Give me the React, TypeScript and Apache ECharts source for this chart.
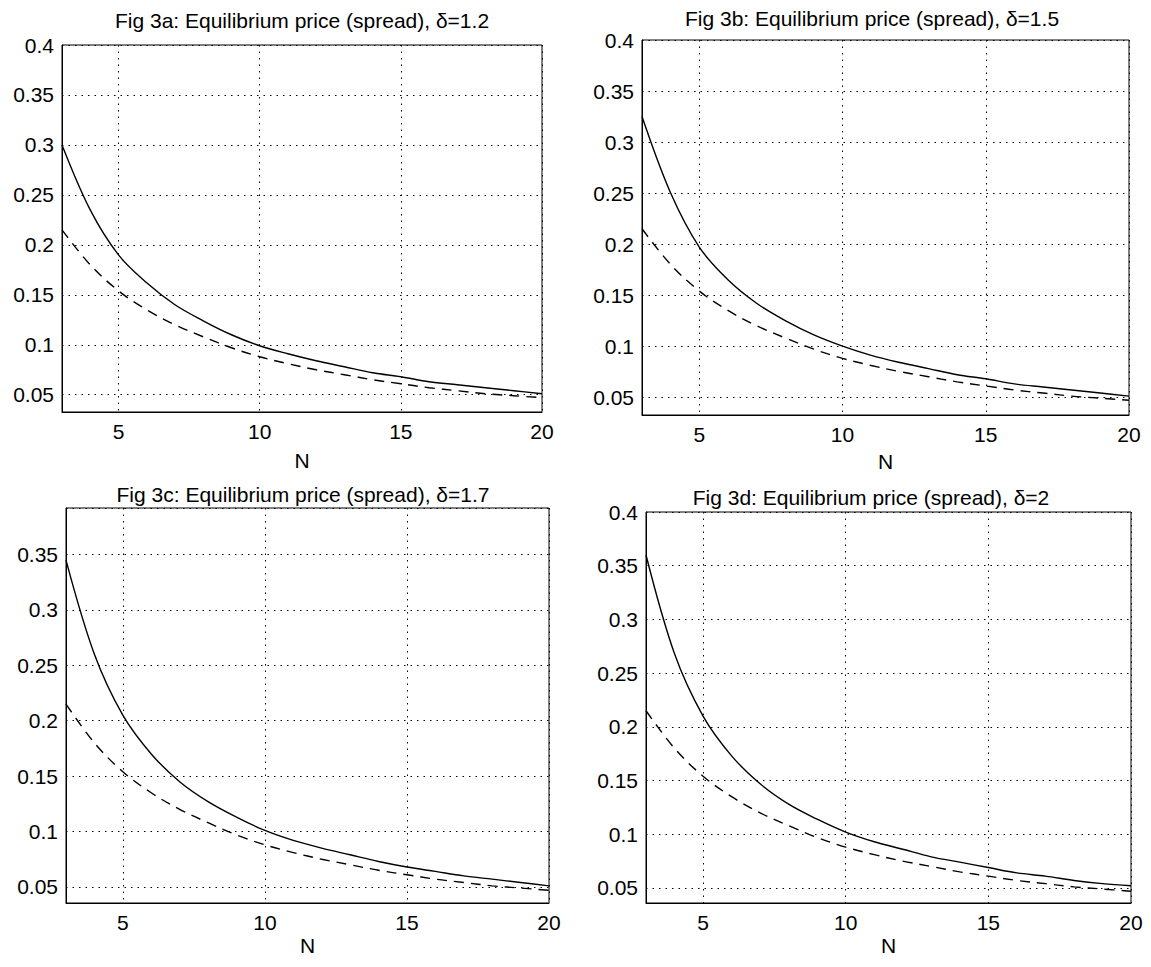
import React, { useEffect, useRef } from "react";
import * as echarts from "echarts";

// Number of firms N (x-axis)
const nValues = [3, 4, 5, 6, 7, 8, 9, 10, 11, 12, 13, 14, 15, 16, 17, 18, 19, 20];

// Solid curves (one per panel)
const solidA = [0.3, 0.235, 0.19, 0.162, 0.14, 0.124, 0.11, 0.099, 0.091, 0.084, 0.078, 0.072, 0.068, 0.063, 0.06, 0.057, 0.054, 0.051];
const solidB = [0.325, 0.25, 0.197, 0.165, 0.142, 0.125, 0.111, 0.1, 0.091, 0.084, 0.078, 0.072, 0.068, 0.063, 0.06, 0.057, 0.054, 0.051];
const solidC = [0.345, 0.26, 0.205, 0.17, 0.145, 0.127, 0.113, 0.101, 0.092, 0.085, 0.079, 0.073, 0.068, 0.064, 0.06, 0.057, 0.054, 0.051];
const solidD = [0.36, 0.268, 0.21, 0.173, 0.147, 0.128, 0.114, 0.102, 0.093, 0.086, 0.079, 0.074, 0.069, 0.064, 0.061, 0.057, 0.054, 0.052];

// Dashed curves (one per panel)
const dashedA = [0.215, 0.18, 0.154, 0.135, 0.12, 0.108, 0.097, 0.088, 0.081, 0.075, 0.07, 0.065, 0.061, 0.057, 0.054, 0.051, 0.049, 0.047];
const dashedB = [0.215, 0.18, 0.154, 0.135, 0.12, 0.108, 0.097, 0.088, 0.081, 0.075, 0.07, 0.065, 0.061, 0.057, 0.054, 0.051, 0.049, 0.047];
const dashedC = [0.215, 0.18, 0.154, 0.135, 0.12, 0.108, 0.097, 0.088, 0.081, 0.075, 0.07, 0.065, 0.061, 0.057, 0.054, 0.051, 0.049, 0.047];
const dashedD = [0.215, 0.18, 0.154, 0.135, 0.12, 0.108, 0.097, 0.088, 0.081, 0.075, 0.07, 0.065, 0.061, 0.057, 0.054, 0.051, 0.049, 0.047];

const titles = [
  "Fig 3a: Equilibrium price (spread), \u03b4=1.2",
  "Fig 3b: Equilibrium price (spread), \u03b4=1.5",
  "Fig 3c: Equilibrium price (spread), \u03b4=1.7",
  "Fig 3d: Equilibrium price (spread), \u03b4=2",
];

const yMins = [0.0327, 0.0325, 0.0355, 0.036];
const yMaxs = [0.4, 0.4, 0.392, 0.4];

const FONT = "'Liberation Sans', Arial, Helvetica, sans-serif";
const FS = 21;

export default function App() {
  const ref = useRef<HTMLDivElement>(null);

  useEffect(() => {
    document.body.style.margin = "0";
    if (!ref.current) return;
    const chart = echarts.init(ref.current, null, { renderer: "svg" });

    const grids = [
      { left: 62, top: 45, width: 480, height: 367 },
      { left: 642, top: 40, width: 487, height: 375 },
      { left: 66, top: 508, width: 483, height: 395 },
      { left: 646, top: 512, width: 485, height: 391 },
    ];
    const nameGaps = [38, 36, 32, 32];
    const titlePos = [
      { x: 302, y: 20 },
      { x: 872, y: 18 },
      { x: 303, y: 494 },
      { x: 871, y: 497 },
    ];
    const solids = [solidA, solidB, solidC, solidD];
    const dashes = [dashedA, dashedB, dashedC, dashedD];

    const isMultiple = (v: number, step: number) =>
      Math.abs(v / step - Math.round(v / step)) < 1e-6;

    const gridLine = { show: true, lineStyle: { color: "#000", width: 1, type: [1.5, 5] as any } };

    const option: any = {
      animation: false,
      backgroundColor: "#fff",
      grid: grids.map((g) => ({
        ...g,
        show: true,
        borderColor: "#000",
        borderWidth: 1,
        backgroundColor: "transparent",
        containLabel: false,
      })),
      xAxis: grids.map((_, i) => ({
        type: "value",
        gridIndex: i,
        min: 3,
        max: 20,
        splitNumber: 4,
        name: "N",
        nameLocation: "middle",
        nameGap: nameGaps[i],
        nameTextStyle: { color: "#000", fontSize: FS, fontFamily: FONT },
        axisLine: { show: true, lineStyle: { color: "#000" } },
        axisTick: { show: false },
        axisLabel: {
          color: "#000",
          fontSize: FS,
          fontFamily: FONT,
          margin: 9,
          formatter: (v: number) => (isMultiple(v, 5) ? String(v) : ""),
        },
        splitLine: gridLine,
      })),
      yAxis: grids.map((_, i) => ({
        type: "value",
        gridIndex: i,
        min: yMins[i],
        max: yMaxs[i],
        splitNumber: 7,
        axisLine: { show: true, lineStyle: { color: "#000" } },
        axisTick: { show: false },
        axisLabel: {
          color: "#000",
          fontSize: FS,
          fontFamily: FONT,
          margin: 8,
          formatter: (v: number) =>
            isMultiple(v, 0.05) ? String(Math.round(v * 100) / 100) : "",
        },
        splitLine: gridLine,
      })),
      series: [
        ...solids.map((s, i) => ({
          type: "line",
          xAxisIndex: i,
          yAxisIndex: i,
          data: nValues.map((n, k) => [n, s[k]]),
          smooth: 0.35,
          symbol: "none",
          lineStyle: { color: "#000", width: 1.4, type: "solid" },
        })),
        ...dashes.map((s, i) => ({
          type: "line",
          xAxisIndex: i,
          yAxisIndex: i,
          data: nValues.map((n, k) => [n, s[k]]),
          smooth: 0.35,
          symbol: "none",
          lineStyle: { color: "#000", width: 1.4, type: [10, 7] },
        })),
      ],
      graphic: titles.map((t, i) => ({
        type: "text",
        x: titlePos[i].x,
        y: titlePos[i].y,
        style: {
          text: t,
          fill: "#000",
          font: `${FS}px ${FONT}`,
          textAlign: "center",
          verticalAlign: "middle",
        },
      })),
    };

    chart.setOption(option);
    return () => chart.dispose();
  }, []);

  return <div ref={ref} style={{ width: 1151, height: 967 }} />;
}
